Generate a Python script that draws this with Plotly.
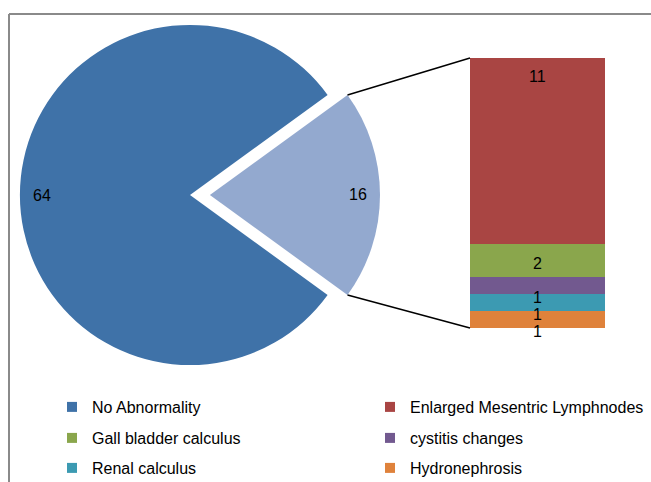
import math
import plotly.graph_objects as go

# ---------------- data ----------------
pie_labels = ["No Abnormality", "Other abnormalities"]
pie_values = [64, 16]
pie_colors = ["#3F72A8", "#93A9CF"]

bar_labels = ["Hydronephrosis", "Renal calculus", "cystitis changes",
              "Gall bladder calculus", "Enlarged Mesentric Lymphnodes"]
bar_values = [1, 1, 1, 2, 11]
bar_colors = ["#DF823B", "#3C9AB2", "#72598F", "#8AA64C", "#A94543"]

legend_order = ["No Abnormality", "Enlarged Mesentric Lymphnodes",
                "Gall bladder calculus", "cystitis changes",
                "Renal calculus", "Hydronephrosis"]

# ---------------- geometry helpers ----------------
W, H = 651, 482
def px(x):
    return x / W
def py(y):
    return 1 - y / H

FONT = "Liberation Sans"
pull = 0.117
rotation = 126
cx, cy, half = 190, 195, 190          # pie box centre / half size (px)
r = 2 * half / (2 + 2 * pull)

bar_left, bar_right, bar_top, bar_bottom = 470, 605, 58, 328

fig = go.Figure()

# main pie
fig.add_trace(go.Pie(
    labels=pie_labels, values=pie_values, sort=False, direction="clockwise",
    rotation=rotation, pull=[0, pull],
    marker=dict(colors=pie_colors, line=dict(width=0)),
    textinfo="none", hoverinfo="label+value", showlegend=False,
    domain=dict(x=[px(cx - half), px(cx + half)], y=[py(cy + half), py(cy - half)]),
))

# pie labels and slice geometry
total = sum(pie_values)
cum = 0
pulled_corners = None
for i, v in enumerate(pie_values):
    a0 = rotation + cum / total * 360
    a1 = rotation + (cum + v) / total * 360
    am = (a0 + a1) / 2
    cum += v
    p = [0, pull][i]
    def pt(ang, rad, p=p, am=am):
        ox = cx + p * r * math.sin(math.radians(am))
        oy = cy - p * r * math.cos(math.radians(am))
        return ox + rad * math.sin(math.radians(ang)), oy - rad * math.cos(math.radians(ang))
    lx, ly = pt(am, 0.87 * r)
    fig.add_annotation(x=px(lx), y=py(ly), xref="paper", yref="paper", text=str(v),
                       xanchor="center", yanchor="middle",
                       showarrow=False, font=dict(family=FONT, size=16, color="black"))
    if p > 0:
        pulled_corners = (pt(a0, r), pt(a1, r))

# stacked bar
base = 0
bar_total = sum(bar_values)
for lab, v, c in zip(bar_labels, bar_values, bar_colors):
    fig.add_trace(go.Bar(
        x=["Other"], y=[v], name=lab, marker=dict(color=c, line=dict(width=0)),
        showlegend=False, xaxis="x", yaxis="y", hoverinfo="name+y",
    ))
    if v == max(bar_values):
        yy, shift = base + v, -18
    elif v == 1:
        yy, shift = base + v / 2, -12
    else:
        yy, shift = base + v / 2, -3
    fig.add_annotation(x="Other", y=yy, xref="x", yref="y", yshift=shift, text=str(v),
                       xanchor="center", yanchor="middle",
                       showarrow=False, font=dict(family=FONT, size=16, color="black"))
    base += v

# connector lines from pulled slice to bar
(c0x, c0y), (c1x, c1y) = pulled_corners
top_c, bot_c = sorted([(c0x, c0y), (c1x, c1y)], key=lambda t: t[1])
for (sx, sy), (ex, ey) in [(top_c, (bar_left, bar_top)), (bot_c, (bar_left, bar_bottom))]:
    fig.add_shape(type="line", xref="paper", yref="paper",
                  x0=px(sx), y0=py(sy), x1=px(ex), y1=py(ey),
                  line=dict(color="black", width=1.5))

# frame lines
fig.add_shape(type="line", xref="paper", yref="paper", x0=px(9), y0=py(14), x1=1, y1=py(14),
              line=dict(color="#8A8A8A", width=2))
fig.add_shape(type="line", xref="paper", yref="paper", x0=px(9), y0=py(14), x1=px(9), y1=0,
              line=dict(color="#8A8A8A", width=2))

# legend: one small legend per entry, laid out as 3 rows x 2 columns
color_map = dict(zip(pie_labels + bar_labels, pie_colors + bar_colors))
row_y = [407, 438, 468]
col_x = [52, 370]
legend_layouts = {}
for i, lab in enumerate(legend_order):
    row, col = divmod(i, 2)
    lname = "legend" if i == 0 else f"legend{i + 1}"
    fig.add_trace(go.Scatter(
        x=[None], y=[None], mode="markers", name=lab, legend=lname,
        marker=dict(symbol="square", size=10, color=color_map[lab]),
        showlegend=True, hoverinfo="skip",
    ))
    legend_layouts[lname] = dict(
        x=px(col_x[col]), xanchor="left", y=py(row_y[row]), yanchor="middle",
        bgcolor="rgba(0,0,0,0)", font=dict(family=FONT, size=16, color="black"),
        itemclick=False, itemdoubleclick=False,
    )

fig.update_layout(
    width=W, height=H, margin=dict(l=0, r=0, t=0, b=0, autoexpand=False),
    paper_bgcolor="white", plot_bgcolor="white",
    barmode="stack", bargap=0,
    xaxis=dict(domain=[px(bar_left), px(bar_right)], range=[-0.5, 0.5], visible=False,
               fixedrange=True),
    yaxis=dict(domain=[py(bar_bottom), py(bar_top)], range=[0, bar_total], visible=False,
               fixedrange=True),
    **legend_layouts,
)

fig.write_html("out.html", config={"displayModeBar": False},
               post_script="document.body.style.margin='0';")
